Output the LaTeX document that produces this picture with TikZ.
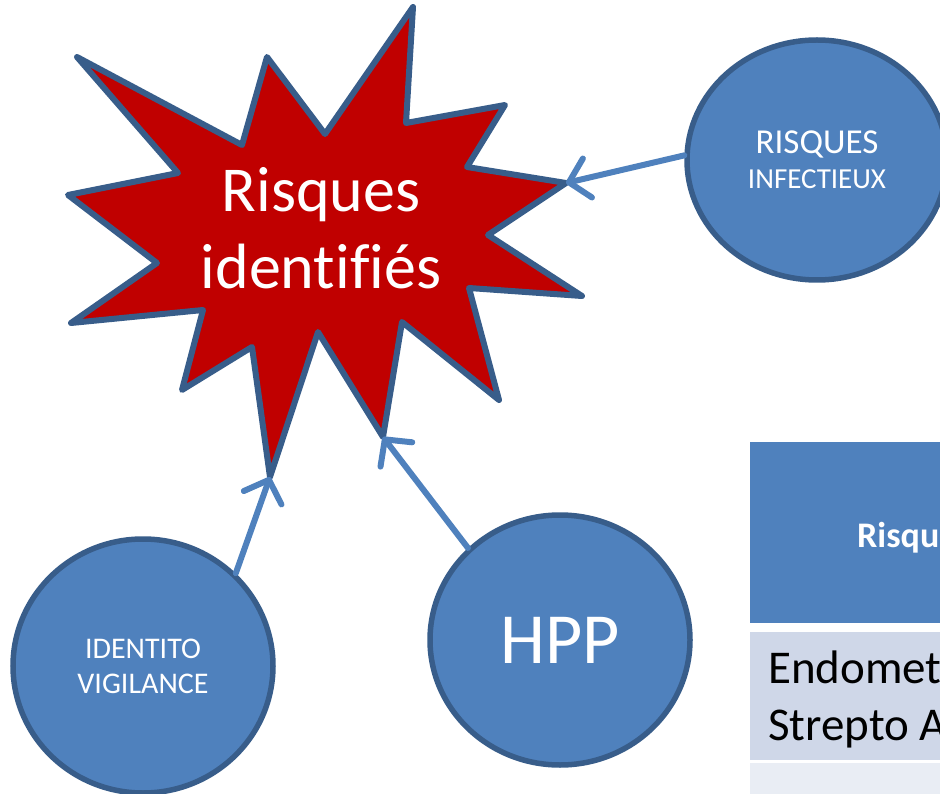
\documentclass[tikz,border=0pt]{standalone}
\usepackage{fontspec}
\setmainfont[Ligatures=CommonOff]{Carlito}
\usetikzlibrary{arrows.meta,positioning,shapes.geometric}
\definecolor{AlertRed}{RGB}{192,0,0}
\definecolor{EdgeBlue}{RGB}{56,93,138}
\definecolor{MainBlue}{RGB}{79,129,189}
\definecolor{RowBlue}{RGB}{207,215,232}
\definecolor{PaleBlue}{RGB}{233,237,244}

\begin{document}
\begin{tikzpicture}[x=1pt, y=-1pt,
    risk/.style={ellipse, draw=EdgeBlue, fill=MainBlue, line width=5.5pt, inner sep=0pt, text=white, align=center, minimum width=260pt},
    arrow/.style={-{Straight Barb[length=19pt,width=40pt,line width=6pt,round]}, line width=6pt, draw=MainBlue, line cap=round},
    cell/.style={anchor=north west, inner sep=0pt, minimum width=300pt},
    celltext/.style={anchor=base west, inner sep=0pt}
  ]
    \useasboundingbox (0,0) rectangle (940,794);
    \clip (0,0) rectangle (940,794);

    % star
    \draw[draw=EdgeBlue, fill=AlertRed, line width=6pt, line join=round]
      (413,7) -- (406,123) -- (505,105) -- (467,167) -- (566,183) coordinate (tipE)
      -- (488,235) -- (582,296) -- (469,288) -- (499,400) -- (402,322)
      -- (383,437) coordinate (tipSE) -- (318,332) -- (270,477) coordinate (tipS)
      -- (252,347) -- (182,390) -- (203,310) -- (71,323) -- (157,263) -- (68,195)
      -- (178,173) -- (77,57) -- (242,145) -- (267,57) -- (325,134) -- cycle;
    \node[text=white, align=center, font=\fontsize{64}{77}\selectfont] (star) at (321,228) {Risques\\identifiés};

    \node[risk, minimum height=240pt, font=\fontsize{35}{35}\selectfont] (infect) at (817,160) {RISQUES\\{\fontsize{29}{35}\selectfont INFECTIEUX}};
    \node[risk, minimum height=254pt, font=\fontsize{30}{35}\selectfont] (vigil) at (143,666) {IDENTITO\\VIGILANCE};
    \node[risk, minimum height=250pt, font=\fontsize{72}{80}\selectfont] (hpp) at (560,640) {HPP};

    \draw[arrow] (infect.178) -- (tipE);
    \draw[arrow] (vigil.45) -- (tipS);
    \draw[arrow] (hpp.135) -- (tipSE);

    % table
    \node[cell, fill=MainBlue, minimum height=181pt] (head) at (750,442) {};
    \node[cell, fill=RowBlue, minimum height=128pt] (rowa) at (750,632) {};
    \node[cell, fill=PaleBlue, minimum height=40pt] (rowb) at (750,763) {};
    \node[celltext, text=white, font=\fontsize{36}{40}\selectfont\bfseries] (headtxt) at (857,547) {Risqu};
    \node[celltext, font=\fontsize{47}{57}\selectfont] (rowtxta) at (768,683) {Endomet};
    \node[celltext, font=\fontsize{47}{57}\selectfont] (rowtxtb) at (768,740) {Strepto A};
\end{tikzpicture}
\end{document}
